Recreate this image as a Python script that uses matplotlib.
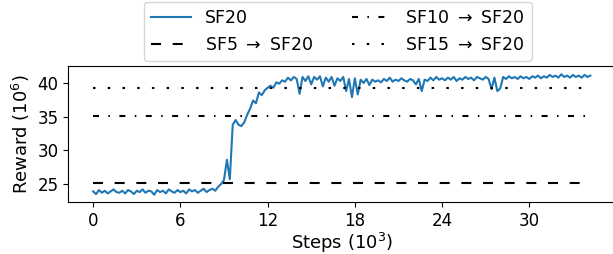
import numpy as np
import matplotlib
matplotlib.use('Agg')
import matplotlib.pyplot as plt

plt.rcParams['font.size'] = 12
plt.rcParams['lines.scale_dashes'] = False

# SF20 reward curve, one value every 0.2k steps
reward_sf20 = [
    23.9, 23.5, 24.1, 23.7, 24.0, 23.6, 23.9, 24.2, 23.8, 23.7,
    24.0, 23.6, 24.1, 23.9, 23.5, 24.0, 23.8, 24.2, 23.7, 24.0,
    23.9, 23.4, 24.1, 23.8, 24.0, 23.6, 24.2, 23.9, 23.7, 24.1,
    23.8, 24.0, 23.6, 24.2, 23.9, 24.1, 23.7, 24.0, 24.3, 23.8,
    24.1, 24.3, 24.0,
    24.6, 25.0, 25.6, 28.6, 25.7, 33.8,
    34.5, 33.8, 33.6, 34.2, 35.3, 36.2, 37.4, 37.0, 38.6, 38.2, 38.9, 39.3,
    39.6, 39.3, 40.1, 39.9, 40.4, 40.2, 40.8, 40.4, 40.9, 40.6,
    38.4, 40.9, 40.3, 41.0, 39.8, 40.9, 40.5, 41.0, 39.5, 40.8,
    40.2, 40.9, 39.6, 40.7, 40.3, 40.9, 38.8, 40.6, 37.9, 40.7,
    38.3, 40.5, 40.0, 40.6, 39.7, 40.5, 40.2, 40.4, 40.1, 40.6,
    40.3, 40.8, 40.2, 40.5, 40.3, 40.7, 40.4, 40.2, 40.6, 40.4,
    39.8, 40.6, 38.8, 40.5, 40.3, 40.8, 40.4, 40.9, 40.5, 40.7,
    40.4, 40.8, 40.5, 40.9, 40.3, 40.7, 40.5, 40.9, 40.6, 40.8,
    40.4, 40.9, 40.7, 40.5, 40.9, 40.6, 39.1, 40.8, 38.8, 39.2,
    40.9, 40.6, 41.0, 40.7, 40.9, 40.6, 41.0, 40.7, 40.9, 40.6,
    41.0, 40.8, 41.1, 40.7, 41.0, 40.8, 41.2, 40.9, 41.1, 40.8,
    41.3, 40.9, 41.1, 40.8, 41.2, 40.9, 41.1, 40.8, 41.2, 40.9,
    41.1,
]
step_size = 0.2  # 10^3 steps between samples
steps = np.arange(len(reward_sf20)) * step_size

# transfer baselines
baseline_span = [0, 34]
sf5_sf20 = 25.1
sf10_sf20 = 35.1
sf15_sf20 = 39.3

fig = plt.figure(figsize=(6.13, 2.54), dpi=100)
ax = fig.add_axes([0.1114, 0.2035, 0.892, 0.5378])

ax.plot(steps, reward_sf20, color='#1f77b4', lw=1.5, label='SF20')
ax.plot(baseline_span, [sf5_sf20, sf5_sf20], color='black', lw=1.5,
        dashes=(7.2, 8.4), label=r'SF5 $\rightarrow$ SF20')
ax.plot(baseline_span, [sf10_sf20, sf10_sf20], color='black', lw=1.5,
        dashes=(4.3, 6.8, 1.1, 6.8), label=r'SF10 $\rightarrow$ SF20')
ax.plot(baseline_span, [sf15_sf20, sf15_sf20], color='black', lw=1.5,
        dashes=(1.8, 8.8), label=r'SF15 $\rightarrow$ SF20')

ax.set_xlim(-1.71, 35.9)
ax.set_ylim(22.28, 42.57)
ax.set_xticks([0, 6, 12, 18, 24, 30])
ax.set_yticks([25, 30, 35, 40])
ax.set_xlabel('Steps ($10^3$)', fontsize=13, labelpad=0.5)
ax.set_ylabel('Reward ($10^6$)', fontsize=13, labelpad=4)

fig.legend(loc='upper center', bbox_to_anchor=(338 / 613, 1 - 2 / 254),
           borderaxespad=0, ncol=2, fontsize=12.5, handlelength=2.3,
           columnspacing=2.2)

fig.savefig('out.png', dpi=100)
